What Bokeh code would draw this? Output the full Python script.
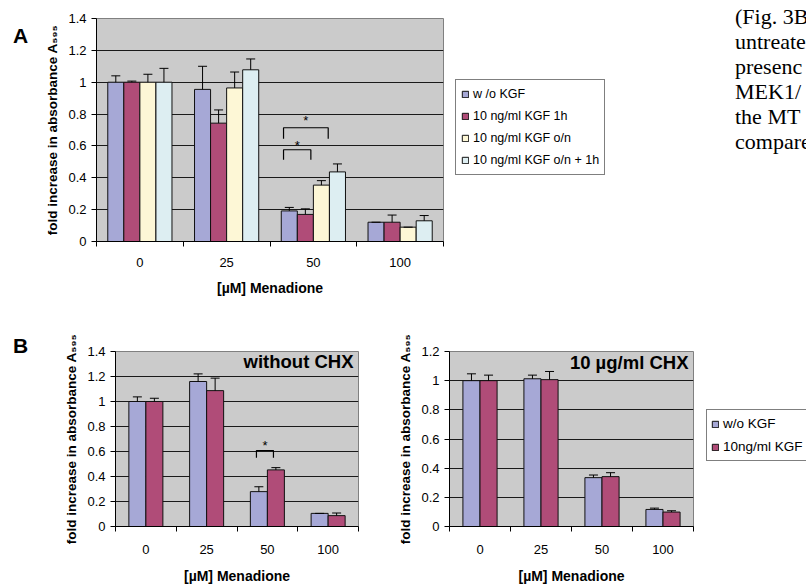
from bokeh.plotting import figure
from bokeh.models import (Range1d, FixedTicker, CustomJSTickFormatter, Legend, LegendItem,
                          Label, Whisker, ColumnDataSource, TeeHead, Div)
from bokeh.layouts import row, column
from bokeh.embed import file_html
from bokeh.resources import INLINE
from bokeh.core.properties import value

FONT = "Liberation Sans"

# ---------------- data ----------------
categories = ["0", "25", "50", "100"]
x_title = "[µM] Menadione"
y_title = "fold increase in absorbance A₅₉₅"

# Panel A
a_labels = ["w /o KGF", "10 ng/ml KGF 1h", "10 ng/ml KGF o/n", "10 ng/ml KGF o/n + 1h"]
a_wo = [1.0, 0.955, 0.192, 0.121]
a_wo_err = [0.04, 0.145, 0.022, 0.0]
a_1h = [1.0, 0.743, 0.170, 0.121]
a_1h_err = [0.007, 0.083, 0.035, 0.045]
a_on = [1.0, 0.964, 0.354, 0.090]
a_on_err = [0.05, 0.10, 0.028, 0.0]
a_on1h = [1.0, 1.078, 0.437, 0.130]
a_on1h_err = [0.087, 0.068, 0.050, 0.033]
a_yticks = [0, 0.2, 0.4, 0.6, 0.8, 1.0, 1.2, 1.4]
# significance brackets: category, left / right offset (category units), top, leg end, star height
a_brackets = [("50", -0.344, 0.171, 0.714, 0.645, 0.758),
              ("50", -0.344, -0.029, 0.576, 0.513, 0.600)]

# Panel B
b_labels = ["w/o KGF", "10ng/ml KGF"]
b1_title = "without CHX"
b1_wo = [1.0, 1.160, 0.279, 0.105]
b1_wo_err = [0.037, 0.061, 0.039, 0.0]
b1_kgf = [1.0, 1.087, 0.453, 0.087]
b1_kgf_err = [0.026, 0.100, 0.018, 0.021]
b1_yticks = [0, 0.2, 0.4, 0.6, 0.8, 1.0, 1.2, 1.4]
b1_brackets = [("50", -0.18, 0.10, 0.608, 0.550, 0.650)]

b2_title = "10 µg/ml CHX"
b2_wo = [1.0, 1.013, 0.335, 0.117]
b2_wo_err = [0.047, 0.025, 0.018, 0.009]
b2_kgf = [1.0, 1.007, 0.342, 0.099]
b2_kgf_err = [0.038, 0.056, 0.027, 0.009]
b2_yticks = [0, 0.2, 0.4, 0.6, 0.8, 1.0, 1.2]

side_text = ["(Fig. 3B", "untreate", "presenc", "MEK1/", "the MT", "compare"]

# colours
C_BLUE = "#A6A8D6"
C_RED = "#B04C78"
C_YEL = "#FDF7D6"
C_CYAN = "#DDEEF2"
BG = "#CBCBCB"
a_colors = [C_BLUE, C_RED, C_YEL, C_CYAN]
b_colors = [C_BLUE, C_RED]


def make_panel(width, height, mb_left, mb_right, mb_top, mb_bottom, ymax, yticks):
    p = figure(width=width, height=height, x_range=Range1d(0, len(categories)),
               y_range=Range1d(0, ymax), output_backend="svg", toolbar_location=None,
               title=None,
               min_border_left=mb_left, min_border_right=mb_right,
               min_border_top=mb_top, min_border_bottom=mb_bottom)
    p.background_fill_color = BG
    p.border_fill_color = "white"
    p.outline_line_color = "#808080"
    p.outline_line_width = 1
    p.xgrid.visible = False
    p.ygrid.ticker = FixedTicker(ticks=yticks)
    p.ygrid.grid_line_color = "#1a1a1a"
    p.ygrid.grid_line_width = 1
    # x axis: labels at category centres, ticks at category boundaries
    xa = p.xaxis[0]
    xa.ticker = FixedTicker(ticks=[i + 0.5 for i in range(len(categories))],
                            minor_ticks=list(range(len(categories) + 1)))
    xa.formatter = CustomJSTickFormatter(args=dict(cats=categories),
                                         code="return cats[Math.floor(tick)]")
    xa.major_tick_out = 0
    xa.major_tick_in = 0
    xa.minor_tick_out = 5
    xa.minor_tick_in = 0
    xa.minor_tick_line_color = "black"
    xa.axis_line_color = "black"
    xa.major_label_text_font = FONT
    xa.major_label_text_font_size = "13px"
    xa.major_label_text_color = "black"
    xa.axis_label = x_title
    xa.axis_label_text_font = FONT
    xa.axis_label_text_font_style = "bold"
    xa.axis_label_text_font_size = "14px"
    xa.axis_label_text_color = "black"
    ya = p.yaxis[0]
    ya.ticker = FixedTicker(ticks=yticks)
    ya.formatter = CustomJSTickFormatter(code="return String(Math.round(tick*10)/10)")
    ya.major_tick_out = 5
    ya.major_tick_in = 0
    ya.minor_tick_out = 0
    ya.minor_tick_in = 0
    ya.major_tick_line_color = "black"
    ya.axis_line_color = "black"
    ya.major_label_text_font = FONT
    ya.major_label_text_font_size = "13px"
    ya.major_label_text_color = "black"
    ya.major_label_standoff = 5
    ya.axis_label = y_title
    ya.axis_label_text_font = FONT
    ya.axis_label_text_font_style = "bold"
    ya.axis_label_text_font_size = "13.5px"
    ya.axis_label_text_color = "black"
    ya.axis_label_standoff = 5
    return p


def add_bars(p, series, errs, colors, bar_w):
    n = len(series)
    sources = []
    for k, (vals, err, col) in enumerate(zip(series, errs, colors)):
        xs = [i + 0.5 + (k - (n - 1) / 2) * bar_w for i in range(len(categories))]
        src = ColumnDataSource(dict(x=xs, top=vals, upper=[v + e for v, e in zip(vals, err)]))
        sources.append(src)
        p.vbar(x="x", top="top", bottom=0, width=bar_w, source=src,
               fill_color=col, line_color="#111111", line_width=1)
        w = Whisker(base="x", lower="top", upper="upper", source=src, dimension="height",
                    line_color="black", line_width=1, lower_head=None,
                    upper_head=TeeHead(size=9, line_color="black", line_width=1),
                    level="annotation")
        p.add_layout(w)
    return sources


def add_brackets(p, brackets):
    for cat, x0, x1, top, leg, star in brackets:
        c = categories.index(cat) + 0.5
        p.line(x=[c + x0, c + x0, c + x1, c + x1], y=[leg, top, top, leg],
               line_color="black", line_width=1.2)
        p.text(x=[c + (x0 + x1) / 2], y=[star], text=["*"], text_align="center",
               text_baseline="middle", text_font=value(FONT), text_font_size="13px",
               text_color="black")


def legend_fig(width, height, mb_top, mb_bottom, labels, colors, sources, loc,
               font_size, label_h, spacing, padding):
    # a plot that only carries the legend; its proxy bars lie outside the visible range
    p = figure(width=width, height=height, x_range=Range1d(-20, -19), y_range=Range1d(0, 1),
               output_backend="svg", toolbar_location=None, title=None,
               min_border_left=0, min_border_right=0,
               min_border_top=mb_top, min_border_bottom=mb_bottom,
               x_axis_location=None, y_axis_location=None)
    p.outline_line_color = None
    p.grid.visible = False
    rends = [p.vbar(x="x", top="top", width=0.1, source=s, fill_color=c,
                    line_color="#111111", line_width=1)
             for c, s in zip(colors, sources)]
    lg = Legend(items=[LegendItem(label=l, renderers=[r]) for l, r in zip(labels, rends)],
                location=loc, orientation="vertical")
    lg.border_line_color = "black"
    lg.border_line_width = 1
    lg.background_fill_color = "white"
    lg.background_fill_alpha = 1
    lg.label_text_font = FONT
    lg.label_text_font_size = font_size
    lg.label_text_color = "black"
    lg.glyph_width = 8
    lg.glyph_height = 8
    lg.label_height = label_h
    lg.label_standoff = 4
    lg.spacing = spacing
    lg.padding = padding
    lg.margin = 0
    p.add_layout(lg)
    return p


def letter(txt, height, top):
    return Div(text=f"<div style='font-family:\"{FONT}\";font-weight:bold;font-size:21px;"
                    f"line-height:21px;margin-top:{top}px;margin-left:13px;color:black'>{txt}</div>",
               width=40, height=height, margin=0)


# ---------------- Panel A ----------------
pA = make_panel(404, 300, 56, 1, 18, 59, 1.4, a_yticks)
pA.xaxis[0].major_label_standoff = 11
pA.xaxis[0].axis_label_standoff = 10
srcA = add_bars(pA, [a_wo, a_1h, a_on, a_on1h], [a_wo_err, a_1h_err, a_on_err, a_on1h_err],
                a_colors, 0.185)
add_brackets(pA, a_brackets)
legA = legend_fig(276, 300, 18, 59, a_labels, a_colors, srcA, (11, 66), "12.5px", 18, 4, 5)

# ---------------- side text ----------------
side = Div(text="<div style='white-space:nowrap;font-family:\"Liberation Serif\";font-size:22px;"
                "line-height:25px;color:black;margin-left:15px;margin-top:4px'>"
                + "<br>".join(side_text) + "</div>",
           width=86, height=300, margin=0, styles={"overflow": "hidden"})

# ---------------- Panel B left ----------------
pB1 = make_panel(348, 286, 75, 30, 51, 58, 1.4, b1_yticks)
pB1.xaxis[0].major_label_standoff = 13
pB1.xaxis[0].axis_label_standoff = 11
add_bars(pB1, [b1_wo, b1_kgf], [b1_wo_err, b1_kgf_err], b_colors, 0.28)
add_brackets(pB1, b1_brackets)
pB1.add_layout(Label(x=238, y=165, x_units="screen", y_units="screen", text=b1_title,
                     text_font=FONT, text_font_style="bold", text_font_size="18.5px",
                     text_align="right", text_baseline="middle", text_color="black"))

# ---------------- Panel B right ----------------
pB2 = make_panel(306, 286, 61, 1, 51, 58, 1.2, b2_yticks)
pB2.xaxis[0].major_label_standoff = 13
pB2.xaxis[0].axis_label_standoff = 11
srcB2 = add_bars(pB2, [b2_wo, b2_kgf], [b2_wo_err, b2_kgf_err], b_colors, 0.28)
pB2.add_layout(Label(x=239, y=164, x_units="screen", y_units="screen", text=b2_title,
                     text_font=FONT, text_font_style="bold", text_font_size="18.5px",
                     text_align="right", text_baseline="middle", text_color="black"))
legB = legend_fig(112, 286, 51, 58, b_labels, b_colors, srcB2, (12, 65), "13.5px", 19, 4, 4)

layout = column(row(letter("A", 300, 25), pA, legA, side),
                row(letter("B", 286, 35), pB1, pB2, legB))
open("out.html", "w").write(file_html(layout, INLINE))
